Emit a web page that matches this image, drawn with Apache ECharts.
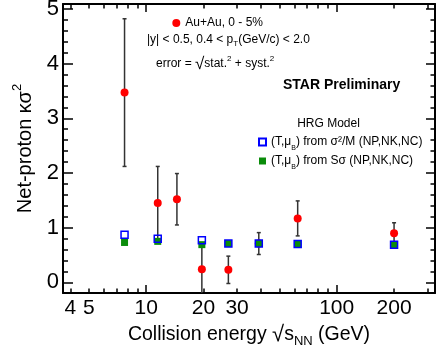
<!DOCTYPE html>
<html>
<head>
<meta charset="utf-8">
<script src="https://cdn.jsdelivr.net/npm/echarts@6/dist/echarts.min.js"></script>
<style>
  html, body { margin: 0; padding: 0; background: #fff; }
  #chart { width: 436px; height: 352px; }
</style>
</head>
<body>
<div id="chart"></div>
<script>
// Au+Au 0-5%, net-proton kappa*sigma^2 vs collision energy
const energies = [7.7, 11.5, 14.5, 19.6, 27, 39, 62.4, 200];
const kappaSigma2 = [3.47, 1.45, 1.52, 0.24, 0.23, 0.71, 1.17, 0.90];
const kappaErr = [1.35, 0.67, 0.47, 0.47, 0.25, 0.20, 0.32, 0.19];

// HRG model values
const hrgEnergies = [7.7, 11.5, 19.6, 27, 39, 62.4, 200];
const hrgSigma2M = [0.87, 0.80, 0.77, 0.71, 0.71, 0.70, 0.69];
const hrgSSigma = [0.73, 0.75, 0.69, 0.71, 0.71, 0.70, 0.69];

// ticks / labels
const xLabels = [4, 5, 10, 20, 30, 100, 200];
const xMajorTicks = [10, 100];
const xMinorTicks = [4, 5, 6, 7, 8, 9, 20, 30, 40, 50, 60, 70, 80, 90, 200, 300];
const yLabels = [0, 1, 2, 3, 4, 5];
const yMinorTicks = [];
for (let i = -1; i < 25; i++) {
  if (i % 5 !== 0) yMinorTicks.push(+(i * 0.2).toFixed(1));
}

const xRange = [3.66, 328];
const yRange = [-0.194, 5.09];

const FONT = 'Liberation Sans, Arial, sans-serif';
const lg = Math.log10;

const chart = echarts.init(document.getElementById('chart'));

const lineBlack = { color: '#000', width: 2 };
const tickBlack = { color: '#000', width: 1.5 };

function xAxisDef(pos, ticks, len, withLine, withLabels) {
  return {
    type: 'value',
    position: pos,
    min: lg(xRange[0]),
    max: lg(xRange[1]),
    axisLine: { show: withLine, onZero: false, lineStyle: lineBlack },
    axisTick: { show: true, inside: true, length: len, customValues: ticks.map(lg), lineStyle: tickBlack },
    axisLabel: withLabels ? {
      show: true,
      customValues: xLabels.map(lg),
      formatter: v => String(Math.round(Math.pow(10, v))),
      fontSize: 21,
      fontFamily: FONT,
      color: '#000',
      margin: 5
    } : { show: false },
    splitLine: { show: false }
  };
}

function yAxisDef(pos, ticks, len, withLine, withLabels) {
  return {
    type: 'value',
    position: pos,
    min: yRange[0],
    max: yRange[1],
    axisLine: { show: withLine, onZero: false, lineStyle: lineBlack },
    axisTick: { show: true, inside: true, length: len, customValues: ticks, lineStyle: tickBlack },
    axisLabel: withLabels ? {
      show: true,
      customValues: yLabels,
      fontSize: 22,
      fontFamily: FONT,
      color: '#000',
      margin: 4
    } : { show: false },
    splitLine: { show: false }
  };
}

const xMain = xAxisDef('bottom', xMajorTicks, 8, true, true);
xMain.name = '{a|Collision energy }{r|√}{a|s}{s|NN}{a| (GeV)}';
xMain.nameLocation = 'middle';
xMain.nameGap = 27;
xMain.nameTextStyle = {
  fontFamily: FONT, color: '#000',
  rich: {
    a: { fontSize: 19.5, lineHeight: 26, fontFamily: FONT, color: '#000' },
    r: { fontSize: 22, lineHeight: 26, fontFamily: FONT, color: '#000' },
    s: { fontSize: 13, lineHeight: 13, verticalAlign: 'bottom', fontFamily: FONT, color: '#000' }
  }
};

const yMain = yAxisDef('left', yLabels, 10, true, true);
yMain.name = '{a|Net-proton κσ}{p|2}';
yMain.nameLocation = 'middle';
yMain.nameRotate = 90;
yMain.nameGap = 24;
yMain.nameTextStyle = {
  fontFamily: FONT, color: '#000',
  rich: {
    a: { fontSize: 20, lineHeight: 28, fontFamily: FONT, color: '#000' },
    p: { fontSize: 13, lineHeight: 12, verticalAlign: 'top', fontFamily: FONT, color: '#000' }
  }
};

const errData = energies.map((e, i) => [lg(e), kappaSigma2[i], kappaErr[i]]);

const option = {
  animation: false,
  backgroundColor: '#fff',
  grid: { left: 63, right: 1, top: 4, bottom: 59, containLabel: false, outerBoundsMode: 'none' },
  xAxis: [
    xMain,
    xAxisDef('bottom', xMinorTicks, 4.5, false, false),
    xAxisDef('top', xMajorTicks, 8, true, false),
    xAxisDef('top', xMinorTicks, 4.5, false, false)
  ],
  yAxis: [
    yMain,
    yAxisDef('left', yMinorTicks, 5, false, false),
    yAxisDef('right', yLabels, 9, true, false),
    yAxisDef('right', yMinorTicks, 4.5, false, false)
  ],
  legend: [
    {
      data: ['Au+Au, 0 - 5%'],
      left: 172.3, top: 17,
      padding: 0,
      itemWidth: 8, itemHeight: 8,
      selectedMode: false,
      textStyle: { fontSize: 12, fontFamily: FONT, color: '#000' }
    },
    {
      data: ['sigma2M', 'ssigma'],
      orient: 'vertical',
      left: 258, top: 136,
      padding: 0, itemGap: 3,
      itemWidth: 7, itemHeight: 7,
      selectedMode: false,
      formatter: function (name) {
        const tail = name === 'sigma2M' ? ') from σ²/M (NP,NK,NC)' : ') from Sσ (NP,NK,NC)';
        return '{a|(T,μ}{s|B}{a|' + tail + '}';
      },
      textStyle: {
        fontSize: 12, fontFamily: FONT, color: '#000',
        rich: {
          a: { fontSize: 12, lineHeight: 20, fontFamily: FONT, color: '#000' },
          s: { fontSize: 7, lineHeight: 8, verticalAlign: 'bottom', fontFamily: FONT, color: '#000' }
        }
      }
    }
  ],
  graphic: [
    {
      type: 'text', x: 147, y: 40,
      style: {
        text: '{a||y| < 0.5, 0.4 < p}{s|T}{a|(GeV/c) < 2.0}',
        verticalAlign: 'middle',
        fill: '#000',
        font: '12px ' + FONT,
        rich: {
          a: { fontSize: 12, lineHeight: 16, fontFamily: FONT, color: '#000' },
          s: { fontSize: 8, lineHeight: 8, verticalAlign: 'bottom', fontFamily: FONT, color: '#000' }
        }
      }
    },
    {
      type: 'text', x: 156, y: 64,
      style: {
        text: '{a|error = }{r|√}{a|stat.}{p|2}{a| + syst.}{p|2}',
        verticalAlign: 'middle',
        fill: '#000',
        font: '12px ' + FONT,
        rich: {
          a: { fontSize: 12, lineHeight: 18, fontFamily: FONT, color: '#000' },
          r: { fontSize: 17, lineHeight: 18, fontFamily: FONT, color: '#000' },
          p: { fontSize: 8, lineHeight: 8, verticalAlign: 'top', fontFamily: FONT, color: '#000' }
        }
      }
    },
    {
      type: 'text', x: 283, y: 85,
      style: {
        text: 'STAR Preliminary',
        verticalAlign: 'middle',
        fill: '#000',
        font: 'bold 14px ' + FONT
      }
    },
    {
      type: 'text', x: 328.5, y: 124,
      style: {
        text: 'HRG Model',
        align: 'center',
        verticalAlign: 'middle',
        fill: '#000',
        font: '12px ' + FONT
      }
    }
  ],
  series: [
    {
      type: 'custom',
      xAxisIndex: 0, yAxisIndex: 0,
      data: errData,
      encode: { x: 0, y: 1 },
      renderItem: function (params, api) {
        const x = api.value(0), y = api.value(1), e = api.value(2);
        const top = api.coord([x, y + e]);
        const bot = api.coord([x, y - e]);
        const cs = params.coordSys;
        const y1 = Math.max(top[1], cs.y);
        const y2 = Math.min(bot[1], cs.y + cs.height);
        const style = { stroke: '#333', lineWidth: 1.5 };
        const kids = [
          { type: 'line', shape: { x1: top[0], y1: y1, x2: top[0], y2: y2 }, style: style }
        ];
        if (top[1] >= cs.y) {
          kids.push({ type: 'line', shape: { x1: top[0] - 2, y1: top[1], x2: top[0] + 2, y2: top[1] }, style: style });
        }
        if (bot[1] <= cs.y + cs.height) {
          kids.push({ type: 'line', shape: { x1: bot[0] - 2, y1: bot[1], x2: bot[0] + 2, y2: bot[1] }, style: style });
        }
        return { type: 'group', children: kids };
      }
    },
    {
      name: 'Au+Au, 0 - 5%',
      type: 'scatter',
      xAxisIndex: 0, yAxisIndex: 0,
      symbol: 'circle',
      symbolSize: 8,
      itemStyle: { color: '#ff0000', opacity: 1 },
      data: energies.map((e, i) => [lg(e), kappaSigma2[i]])
    },
    {
      name: 'ssigma',
      type: 'scatter',
      xAxisIndex: 0, yAxisIndex: 0,
      symbol: 'rect',
      symbolSize: 7,
      itemStyle: { color: '#0a8c0a', opacity: 1 },
      data: hrgEnergies.map((e, i) => [lg(e), hrgSSigma[i]])
    },
    {
      name: 'sigma2M',
      type: 'scatter',
      xAxisIndex: 0, yAxisIndex: 0,
      symbol: 'rect',
      symbolSize: 7,
      itemStyle: { color: 'rgba(255,255,255,0)', borderColor: '#0000ff', borderWidth: 1.5, opacity: 1 },
      data: hrgEnergies.map((e, i) => [lg(e), hrgSigma2M[i]])
    }
  ]
};

chart.setOption(option);
</script>
</body>
</html>
